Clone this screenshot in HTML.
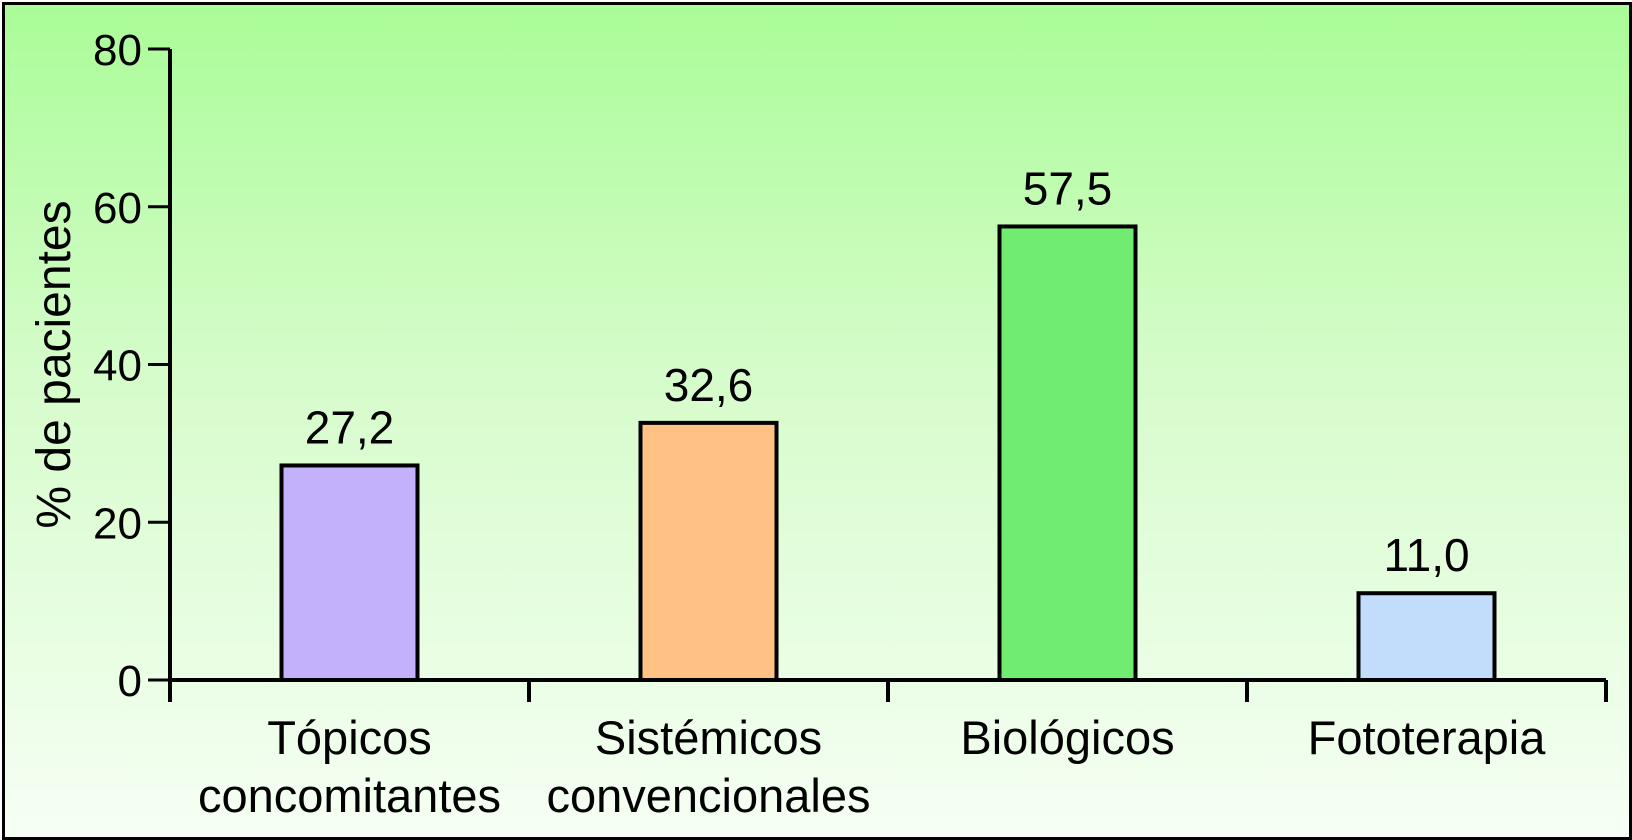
<!DOCTYPE html>
<html><head><meta charset="utf-8"><style>
html,body{margin:0;padding:0;}
body{width:1632px;height:840px;overflow:hidden;font-family:"Liberation Sans",sans-serif;}
#frame{position:absolute;left:2px;top:2px;width:1624px;height:832px;border:3px solid #000;background:linear-gradient(#aafc98,#d6fccb 45%,#f6fff4);}
</style></head><body>
<div id="frame"></div>
<svg id="chart" width="1632" height="840" style="position:absolute;left:0;top:0"></svg>
<script>
const categories=[["Tópicos","concomitantes"],["Sistémicos","convencionales"],["Biológicos"],["Fototerapia"]];
const values=[27.2,32.6,57.5,11.0];
const valueLabels=["27,2","32,6","57,5","11,0"];
const yTicks=[0,20,40,60,80];
const colors=["#c3b1fb","#ffc184","#70ec70","#c2dcfb"];
const svg=document.getElementById('chart');
const NS='http://www.w3.org/2000/svg';
const x0=170,x1=1606,yTop=49,yBot=680,yMax=80;
const y=v=>yBot-(v/yMax)*(yBot-yTop);
const band=(x1-x0)/categories.length;
const bw=136;
function mk(t,a){const e=document.createElementNS(NS,t);for(const k in a)e.setAttribute(k,a[k]);svg.appendChild(e);return e;}
let e;
e=mk('line',{x1:x0,y1:yTop,x2:x0,y2:yBot,stroke:'#000','stroke-width':4});


yTicks.forEach(t=>{
  e=mk('line',{x1:x0-22,y1:y(t),x2:x0,y2:y(t),stroke:'#000','stroke-width':3});
  
  
  e=mk('text',{x:x0-28,y:y(t)+16,'text-anchor':'end','font-size':44});
  e.textContent=t;
  
  
});
e=mk('text',{transform:`translate(70,${(yTop+yBot)/2}) rotate(-90)`,'text-anchor':'middle','font-size':48});
e.textContent='% de pacientes';


values.forEach((v,i)=>{
  const cx=x0+band*(i+0.5);
  e=mk('rect',{x:cx-bw/2,y:y(v),width:bw,height:yBot-y(v),fill:colors[i],stroke:'#000','stroke-width':4});
  
  
  e=mk('text',{x:cx,y:y(v)-22,'text-anchor':'middle','font-size':46});
  e.textContent=valueLabels[i];
  
  
  categories[i].forEach((ln,j)=>{
    e=mk('text',{x:cx,y:754+j*58,'text-anchor':'middle','font-size':47});
    e.textContent=ln;
    
    
  });
});
e=mk('line',{x1:x0,y1:yBot,x2:x1,y2:yBot,stroke:'#000','stroke-width':4});


for(let i=0;i<=categories.length;i++){
  e=mk('line',{x1:x0+band*i,y1:yBot,x2:x0+band*i,y2:yBot+22,stroke:'#000','stroke-width':4});
  
  
}
</script>
</body></html>
